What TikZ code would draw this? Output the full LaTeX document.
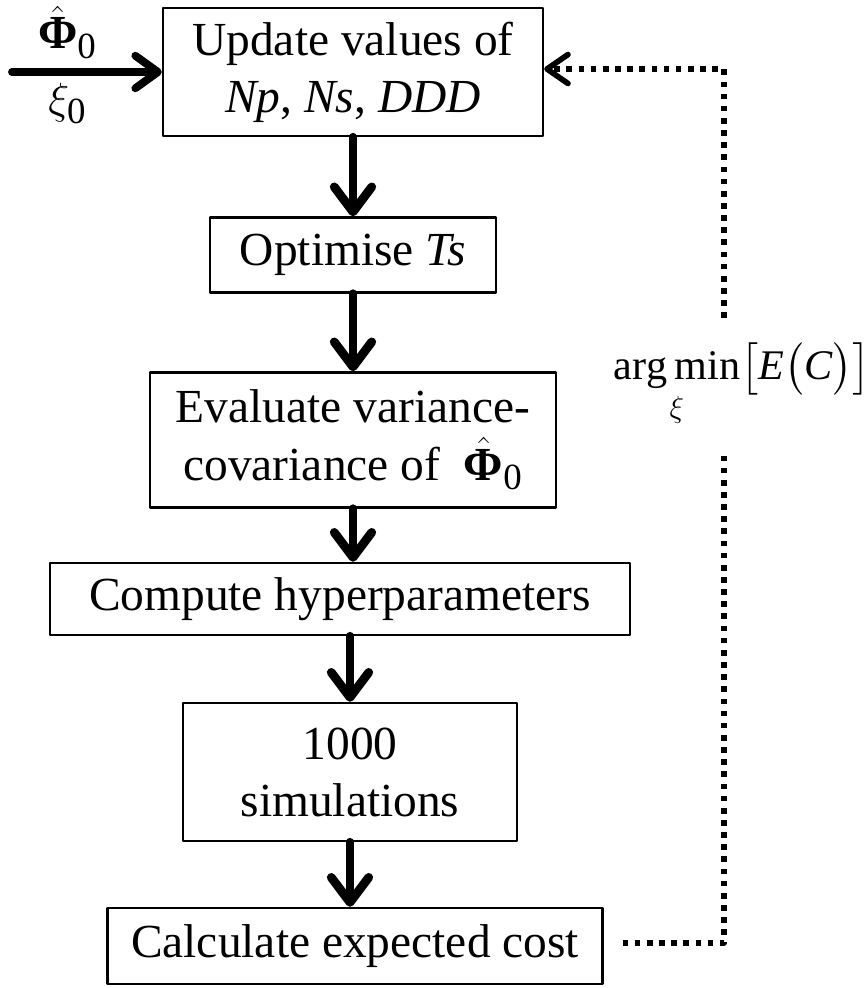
\documentclass[tikz,border=0pt]{standalone}
\usepackage{amsmath}
\usepackage{fontspec}
\setmainfont{Liberation Serif}
\usetikzlibrary{arrows.meta}
\newcommand\phizero{$\hat{\text{\bfseries Φ}}_{\text{\fontsize{21}{21}\selectfont 0}}$}
\newcommand\xizero{$\xi_{\text{\fontsize{21}{21}\selectfont 0}}$}

\begin{document}
\begin{tikzpicture}[x=0.02cm,y=-0.02cm,line cap=round,line join=round,
	>={Straight Barb[length=0.5cm,width=0.75cm,round]},
	box/.style={draw,line width=1.4pt,align=center,inner sep=0pt,font=\fontsize{27}{32.5}\selectfont},
	flow/.style={->,line width=5pt},
	loop/.style={line width=3.2pt,line cap=butt,dash pattern=on 0.113cm off 0.13cm}]
	\useasboundingbox (0,0) rectangle (868,988);
	% steps
	\node[box,minimum width=7.6cm,minimum height=2.56cm] (upd) at (353,72) {Update values of\\\textit{Np}, \textit{Ns}, \textit{DDD}};
	\node[box,minimum width=5.72cm,minimum height=1.5cm] (opt) at (353,255) {Optimise \textit{Ts}};
	\node[box,minimum width=8.12cm,minimum height=2.7cm] (eva) at (353,440) {Evaluate variance-\\covariance of \ \phizero};
	\node[box,minimum width=11.6cm,minimum height=1.44cm] (hyp) at (340,599) {Compute hyperparameters};
	\node[box,minimum width=6.68cm,minimum height=2.76cm] (sim) at (350,772) {1000\\simulations};
	\node[box,minimum width=9.9cm,minimum height=1.52cm] (cost) at (355,946) {Calculate expected cost};
	% input
	\coordinate (in) at (12,72);
	\draw[flow,line width=4.5pt,>={Straight Barb[length=0.45cm,width=0.65cm,round]}] (in) -- (upd.west)
		node[pos=0.37,above=2pt,font=\fontsize{27}{32.5}\selectfont] (phi) {\phizero}
		node[pos=0.37,below=1pt,font=\fontsize{27}{32.5}\selectfont] (xi) {\xizero};
	% main flow
	\draw[flow] (upd) -- (opt);
	\draw[flow] (opt) -- (eva);
	\draw[flow] (eva.south) -- (eva.south |- hyp.north);
	\draw[flow] (sim.north |- hyp.south) -- (sim.north);
	\draw[flow] (sim.south) -- (sim.south |- cost.north);
	% feedback
	\coordinate (d1) at (724,943);
	\coordinate (d2) at (724,453);
	\coordinate (d3) at (724,318);
	\coordinate (d4) at (724,69);
	\node[font=\fontsize{24}{28}\selectfont,inner sep=0pt] (argmin) at (742,385) {$\displaystyle\operatorname*{arg\,min}_{\xi}\bigl[\mathit{E}\bigl(\mathit{C}\bigr)\bigr]$};
	\draw[loop] ([xshift=0.38cm]cost.east |- d1) -- (d1) -- (d2);
	\draw[loop,->,>={Straight Barb[length=0.42cm,width=0.58cm,round]}] (d3) -- (d4) -- (upd.east |- d4);
\end{tikzpicture}
\end{document}
